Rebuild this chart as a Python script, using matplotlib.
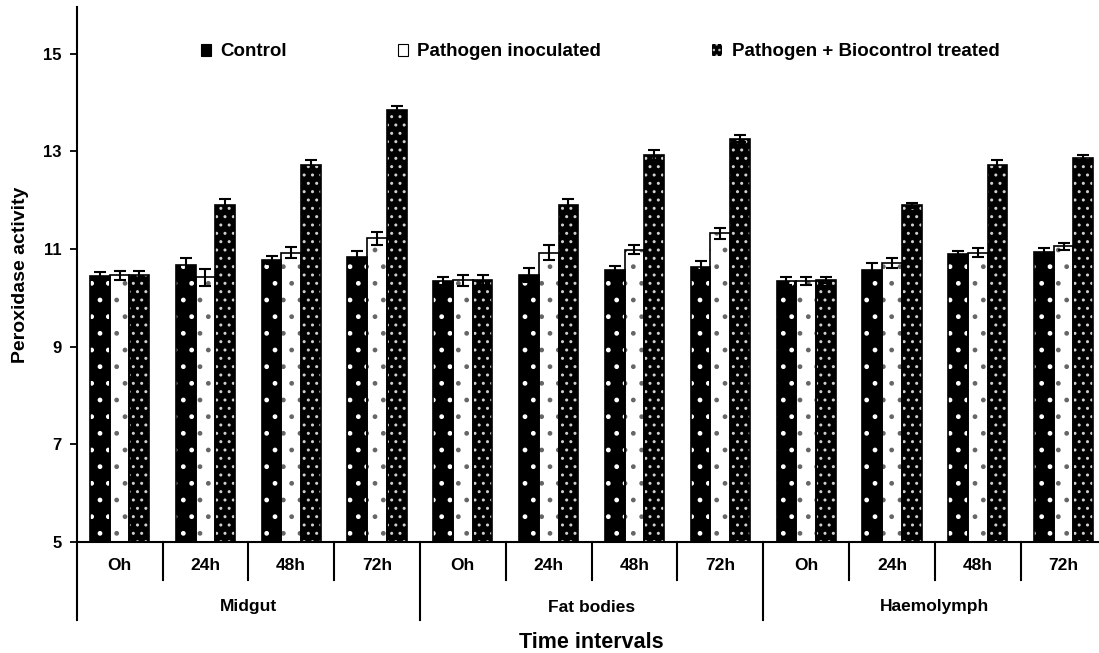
import matplotlib
matplotlib.use("Agg")
import matplotlib.pyplot as plt
import matplotlib.transforms as mtransforms
from matplotlib.patches import Patch
import numpy as np

plt.rcParams['font.family'] = ['Liberation Sans', 'DejaVu Sans']
plt.rcParams['font.weight'] = 'bold'

time_labels = ["Oh", "24h", "48h", "72h"] * 3
tissues = ["Midgut", "Fat bodies", "Haemolymph"]
series_names = ["Control", "Pathogen inoculated", "Pathogen + Biocontrol treated"]

control = [10.44, 10.67, 10.78, 10.84, 10.35, 10.47, 10.57, 10.63, 10.35, 10.57, 10.89, 10.94]
control_err = [0.09, 0.15, 0.08, 0.12, 0.08, 0.15, 0.09, 0.12, 0.08, 0.15, 0.07, 0.09]
pathogen = [10.46, 10.42, 10.93, 11.22, 10.36, 10.93, 10.99, 11.32, 10.35, 10.72, 10.93, 11.06]
pathogen_err = [0.1, 0.18, 0.11, 0.13, 0.11, 0.16, 0.1, 0.12, 0.08, 0.1, 0.1, 0.07]
biocontrol = [10.47, 11.90, 12.73, 13.86, 10.37, 11.90, 12.93, 13.26, 10.37, 11.90, 12.73, 12.87]
biocontrol_err = [0.09, 0.13, 0.1, 0.07, 0.1, 0.12, 0.1, 0.07, 0.06, 0.05, 0.1, 0.05]

fig = plt.figure(figsize=(10.99, 6.53), dpi=100)
ax = fig.add_axes([0.0698, 1 - 542 / 653, 0.937, (542 - 7) / 653])

x = np.arange(len(time_labels))
w = 0.23
styles = [
    dict(face="black", hatch=".", hcol="white"),
    dict(face="white", hatch=".", hcol="#666666"),
    dict(face="black", hatch="..", hcol="#d0d0d0"),
]
data = [(control, control_err), (pathogen, pathogen_err), (biocontrol, biocontrol_err)]
ybase = 5
for i, ((vals, errs), st) in enumerate(zip(data, styles)):
    pos = x + (i - 1) * w
    heights = np.array(vals) - ybase
    ax.bar(pos, heights, w, bottom=ybase, color=st["face"], edgecolor=st["hcol"],
           hatch=st["hatch"], linewidth=0, zorder=2)
    ax.bar(pos, heights, w, bottom=ybase, fill=False, edgecolor="black",
           linewidth=1.2, zorder=3)
    ax.errorbar(pos, vals, yerr=errs, fmt="none", ecolor="black", elinewidth=1.5,
                capsize=4.5, capthick=1.5, zorder=4)

ax.set_xlim(-0.5, 11.5)
ax.set_ylim(5, 15.96)
ax.set_yticks([5, 7, 9, 11, 13, 15])
ax.set_yticklabels(["5", "7", "9", "11", "13", "15"], fontsize=12, fontweight="bold")
ax.tick_params(axis="y", direction="out", length=5, width=1.3, pad=6)
ax.set_xticks([])
for s in ["top", "right"]:
    ax.spines[s].set_visible(False)
ax.spines["left"].set_linewidth(1.5)
ax.spines["bottom"].set_linewidth(1.5)

ax.set_ylabel("Peroxidase activity", fontsize=14, fontweight="bold", labelpad=10)

trans = mtransforms.blended_transform_factory(ax.transData, ax.transAxes)
ax_h = 535.0
def fy(py):
    return -(py - 542) / ax_h

# time separators
for b in np.arange(0.5, 11.5, 1.0):
    if abs((b + 0.5) % 4) < 1e-9:
        continue
    ax.plot([b, b], [0, fy(580)], color="black", lw=1.5, transform=trans, clip_on=False)
# group separators
for b in [-0.5, 3.5, 7.5, 11.5]:
    ax.plot([b, b], [0, fy(620)], color="black", lw=1.5, transform=trans, clip_on=False)

for xi, lab in zip(x, time_labels):
    ax.text(xi, fy(566), lab, transform=trans, ha="center", va="center",
            fontsize=12.5, fontweight="bold")
for gi, t in enumerate(tissues):
    ax.text(gi * 4 + 1.5, fy(607), t, transform=trans, ha="center", va="center",
            fontsize=12.5, fontweight="bold")
ax.text(0.5, fy(642), "Time intervals", transform=ax.transAxes, ha="center", va="center",
        fontsize=15.5, fontweight="bold")

handles = [
    Patch(facecolor="black", edgecolor="black", linewidth=0.8),
    Patch(facecolor="white", edgecolor="black", linewidth=0.8),
    Patch(facecolor="black", edgecolor="#bbbbbb", hatch="...", linewidth=0.0),
]
leg = ax.legend(handles, series_names, ncol=3, frameon=False, loc="center",
                bbox_to_anchor=((600 - 76.7) / (1106.5 - 76.7), (542 - 52) / ax_h),
                prop=dict(family="Liberation Sans", weight="bold", size=13.5),
                handlelength=0.55, handleheight=0.55, handletextpad=0.5,
                columnspacing=5.9)

fig.savefig("out.png", dpi=100)
